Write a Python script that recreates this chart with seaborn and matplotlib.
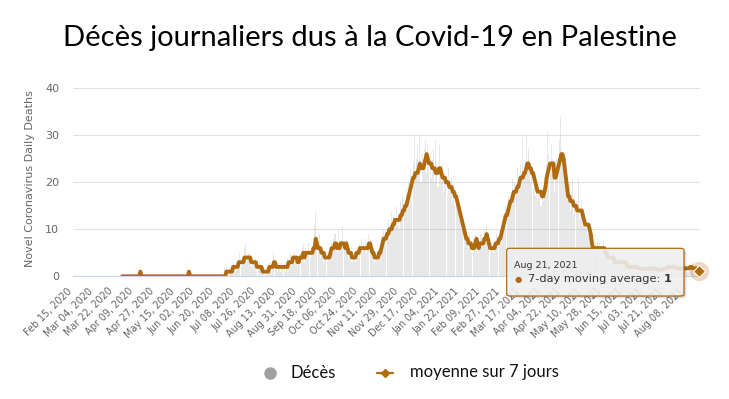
import numpy as np
import pandas as pd
import matplotlib
matplotlib.use("Agg")
import matplotlib.pyplot as plt
import matplotlib.transforms as mtrans
from matplotlib.patches import FancyBboxPatch
from matplotlib.lines import Line2D
import seaborn as sns

# ---------------- data ----------------
start_date = "2020-02-15"

# daily deaths, one value per day from Feb 15, 2020 to Aug 21, 2021
deaths = [
    0, 0, 0, 0, 0, 0, 0, 0, 0, 0,
    0, 0, 0, 0, 0, 0, 0, 0, 0, 0,
    0, 0, 0, 0, 0, 0, 0, 0, 0, 0,
    0, 0, 0, 0, 0, 0, 0, 0, 0, 0,
    0, 0, 0, 0, 0, 0, 0, 0, 0, 0,
    0, 0, 0, 0, 0, 0, 0, 0, 0, 1,
    0, 0, 0, 0, 0, 0, 0, 0, 0, 0,
    0, 0, 0, 0, 0, 0, 0, 0, 0, 0,
    0, 0, 0, 0, 0, 0, 0, 0, 0, 0,
    0, 0, 0, 0, 0, 0, 0, 0, 0, 0,
    0, 0, 1, 0, 0, 0, 0, 0, 0, 0,
    0, 0, 0, 0, 0, 0, 0, 0, 0, 0,
    0, 0, 0, 0, 0, 0, 0, 0, 0, 0,
    0, 0, 0, 2, 1,
    2, 1, 0, 2, 1, 1, 3, 2, 1, 3,
    2, 3, 5, 2, 3, 4, 6, 7, 3, 4,
    5, 3, 2, 4, 3, 2, 4, 1, 2, 3,
    2, 1, 1, 2, 0, 1, 2, 1, 3, 2,
    1, 3, 5, 2, 2, 1, 3, 2, 1, 3,
    2, 3, 1, 2, 4, 3, 2, 5, 3, 4,
    5, 3, 4, 2, 4, 5, 3, 6, 7, 3,
    6, 4, 5, 7, 4, 6, 5, 7, 11, 14,
    6, 5, 9, 4, 5, 6, 3, 4, 5, 3,
    5, 4, 6, 7, 5, 8, 9, 6, 5, 10,
    7, 6, 8, 11, 6, 7, 8, 5, 4, 6,
    5, 3, 5, 4, 3, 6, 5, 4, 7, 8,
    5, 7, 6, 8, 5, 7, 9, 8, 5, 4,
    6, 3, 5, 4, 5, 6, 5, 8, 9, 10,
    7, 10, 9, 12, 8, 11, 14, 10, 13, 12,
    15, 11, 13, 10, 16, 12, 17, 14, 16, 19,
    15, 20, 18, 23, 19, 24, 30, 21, 25, 27,
    22, 30, 20, 26, 24, 27, 29, 22, 28, 23,
    26, 21, 25, 27, 20, 29, 24, 19, 28, 22,
    20, 24, 18, 22, 21, 17, 23, 20, 18, 21,
    16, 19, 15, 18, 14, 16, 12, 13, 10, 12,
    9, 11, 7, 8, 6, 9, 7, 5, 8, 6,
    9, 7, 5, 8, 6, 9, 7, 8, 10, 7,
    11, 6, 8, 5, 7, 6, 5, 8, 7, 9,
    6, 9, 10, 8, 12, 13, 11, 15, 14, 17,
    14, 18, 17, 21, 16, 20, 19, 23, 18, 22,
    24, 19, 29, 21, 25, 30, 22, 27, 24, 20,
    23, 19, 21, 17, 20, 16, 19, 18, 15, 17,
    16, 20, 22, 24, 31, 26, 22, 28, 25, 23,
    18, 22, 25, 21, 29, 34, 27, 24, 26, 22,
    19, 17, 16, 20, 14, 18, 21, 13, 17, 16,
    15, 21, 12, 14, 16, 11, 13, 10, 12, 9,
    11, 8, 9, 6, 8, 5, 7, 6, 8, 5,
    7, 5, 6, 8, 5, 4, 6, 3, 5, 4,
    3, 5, 4, 2, 4, 3, 2, 4, 3, 2,
    4, 3, 2, 3, 1, 2, 3, 2, 1, 2,
    2, 3, 1, 2, 2, 1, 3, 2, 1, 2,
    1, 2, 0, 1, 2, 3, 2, 1, 2, 3,
    1, 2, 1, 0, 2, 1, 1, 2, 1, 1,
    2, 1, 0, 1, 2, 1, 2, 1, 1, 0,
    2, 3, 1, 2, 1, 0, 2, 1, 1, 2,
    1, 2, 3, 1, 0, 1, 2, 1, 1,
]

# 7-day moving average, starting on day index 43 (Mar 29, 2020)
avg_start_index = 43
moving_avg = [
    0, 0, 0, 0, 0, 0, 0,
    0, 0, 0, 0, 0, 0, 0, 0, 0, 1,
    0, 0, 0, 0, 0, 0, 0, 0, 0, 0,
    0, 0, 0, 0, 0, 0, 0, 0, 0, 0,
    0, 0, 0, 0, 0, 0, 0, 0, 0, 0,
    0, 0, 0, 0, 0, 0, 0, 0, 0, 0,
    0, 0, 1, 0, 0, 0, 0, 0, 0, 0,
    0, 0, 0, 0, 0, 0, 0, 0, 0, 0,
    0, 0, 0, 0, 0, 0, 0, 0, 0, 0,
    0, 0, 0, 0, 0,
    1, 1, 1, 1, 1, 1, 2, 2, 2, 2,
    2, 3, 3, 3, 3, 3, 4, 4, 4, 4,
    4, 4, 3, 3, 3, 3, 3, 2, 2, 2,
    2, 2, 1, 1, 1, 1, 1, 1, 2, 2,
    2, 2, 3, 3, 2, 2, 2, 2, 2, 2,
    2, 2, 2, 2, 2, 3, 3, 3, 3, 4,
    4, 4, 4, 3, 3, 4, 4, 4, 5, 4,
    5, 5, 5, 5, 5, 5, 5, 6, 6, 8,
    7, 6, 6, 6, 5, 5, 5, 4, 4, 4,
    4, 4, 5, 6, 6, 6, 7, 7, 6, 6,
    6, 7, 7, 7, 7, 6, 7, 6, 5, 5,
    5, 4, 4, 4, 4, 5, 5, 5, 6, 6,
    6, 6, 6, 6, 6, 6, 7, 7, 6, 5,
    5, 4, 4, 4, 4, 5, 5, 6, 7, 8,
    8, 8, 9, 9, 10, 10, 10, 11, 11, 12,
    12, 12, 12, 12, 13, 13, 14, 14, 15, 15,
    16, 17, 18, 19, 20, 21, 21, 22, 22, 22,
    23, 24, 23, 23, 23, 24, 25, 26, 25, 24,
    24, 24, 23, 23, 23, 22, 22, 22, 23, 23,
    22, 21, 21, 21, 20, 20, 20, 19, 19, 19,
    18, 18, 17, 17, 16, 15, 14, 13, 12, 11,
    10, 9, 8, 8, 7, 7, 7, 6, 6, 6,
    7, 8, 7, 6, 7, 7, 7, 7, 8, 8,
    9, 8, 7, 6, 6, 6, 6, 6, 7, 7,
    7, 8, 8, 9, 10, 11, 12, 13, 13, 14,
    15, 16, 16, 17, 18, 18, 18, 19, 19, 20,
    21, 21, 21, 22, 22, 23, 24, 24, 23, 23,
    22, 22, 21, 20, 19, 18, 18, 18, 18, 17,
    17, 18, 19, 21, 22, 23, 24, 24, 24, 24,
    21, 21, 22, 23, 24, 25, 26, 26, 25, 23,
    21, 19, 17, 17, 16, 16, 16, 15, 15, 15,
    14, 14, 14, 14, 14, 13, 12, 11, 11, 11,
    11, 10, 9, 7, 6, 6, 6, 6, 6, 6,
    6, 6, 6, 6, 6, 5, 5, 4, 4, 4,
    4, 4, 4, 3, 3, 3, 3, 3, 3, 3,
    3, 3, 3, 3, 2, 2, 2, 2, 2, 2,
    2, 2, 2, 2, 1.7, 1.7, 1.6, 1.6, 1.6, 1.6,
    1.6, 1.6, 1.6, 1.6, 1.6, 1.7, 1.7, 1.6, 1.6, 1.6,
    1.6, 1.4, 1.4, 1.4, 1.4, 1.4, 1.6, 1.6, 1.6, 1.7,
    2, 2, 2, 2, 2, 2, 2, 1.7, 1.7, 1.7,
    1.7, 1.7, 1.7, 1.7, 1.7, 1.7, 1.7, 1.7, 1.7, 1.7,
    2, 2, 1.7, 1.7, 1.7, 1.7, 1.6, 1.4, 1.2,
]

tick_labels = [
    "Feb 15, 2020", "Mar 04, 2020", "Mar 22, 2020", "Apr 09, 2020",
    "Apr 27, 2020", "May 15, 2020", "Jun 02, 2020", "Jun 20, 2020",
    "Jul 08, 2020", "Jul 26, 2020", "Aug 13, 2020", "Aug 31, 2020",
    "Sep 18, 2020", "Oct 06, 2020", "Oct 24, 2020", "Nov 11, 2020",
    "Nov 29, 2020", "Dec 17, 2020", "Jan 04, 2021", "Jan 22, 2021",
    "Feb 09, 2021", "Feb 27, 2021", "Mar 17, 2021", "Apr 04, 2021",
    "Apr 22, 2021", "May 10, 2021", "May 28, 2021", "Jun 15, 2021",
    "Jul 03, 2021", "Jul 21, 2021", "Aug 08, 2021",
]
y_ticks = [0, 10, 20, 30, 40]

title = "Décès journaliers dus à la Covid-19 en Palestine"
y_label = "Novel Coronavirus Daily Deaths"
legend_labels = ["Décès", "moyenne sur 7 jours"]
tooltip_series = "7-day moving average"

# ---------------- style ----------------
LINE = "#b06a10"
BAR = "#9a9a9a"
GREY_TXT = "#666666"

sns.set_style("white")
plt.rcParams["font.family"] = ["DejaVu Sans"]

dates = pd.date_range(start_date, periods=len(deaths), freq="D")
df = pd.DataFrame({"day": np.arange(len(deaths)), "deaths": deaths})
avg_df = pd.DataFrame({
    "day": np.arange(avg_start_index, avg_start_index + len(moving_avg)),
    "avg": moving_avg,
})

W, H = 729, 399
fig = plt.figure(figsize=(W / 100, H / 100), dpi=100)
L, R, T, B = 73, 700, 88.3, 276.3
ax = fig.add_axes([L / W, 1 - B / H, (R - L) / W, (B - T) / H])


def fx(px):
    return px / W


def fy(py):
    return 1 - py / H


sns.barplot(data=df, x="day", y="deaths", native_scale=True, color=BAR,
            saturation=1, width=0.92, errorbar=None, linewidth=0, alpha=0.22,
            ax=ax, zorder=2)
sns.lineplot(data=avg_df, x="day", y="avg", color=LINE, linewidth=2.8,
             ax=ax, zorder=3)

ax.set_xlim(-0.5, len(deaths) - 0.5)
ax.set_ylim(0, 40)

# grid / spines
ax.set_axisbelow(True)
ax.yaxis.grid(True, color="#e2e2e2", linewidth=0.8)
ax.xaxis.grid(False)
for s in ["top", "right", "left"]:
    ax.spines[s].set_visible(False)
ax.spines["bottom"].set_color("#ccd6eb")
ax.spines["bottom"].set_linewidth(0.8)
ax.spines["bottom"].set_zorder(4)

# ticks
tick_dates = pd.to_datetime(tick_labels, format="%b %d, %Y")
tick_pos = [(d - dates[0]).days for d in tick_dates]
ax.set_xticks(tick_pos)
ax.set_xticklabels(tick_labels, rotation=45, ha="right", va="top",
                   rotation_mode="anchor", fontsize=6.9, color=GREY_TXT)
ax.tick_params(axis="x", length=0, pad=7)
shift = mtrans.ScaledTranslation(-6.5 / 100, 0, fig.dpi_scale_trans)
for lab in ax.get_xticklabels():
    lab.set_transform(lab.get_transform() + shift)

ax.set_yticks(y_ticks)
ax.tick_params(axis="y", length=0, pad=10, labelsize=8, labelcolor=GREY_TXT)
ax.set_xlabel("")
ax.set_ylabel(y_label, fontsize=8, color=GREY_TXT)
ax.yaxis.set_label_coords(-38 / (R - L), 0.52)

# hover marker on the last point
last = avg_df.iloc[-1]
ax.scatter([last["day"]], [last["avg"]], s=190, color=LINE, alpha=0.25,
           linewidths=0, clip_on=False, zorder=5)
ax.plot([last["day"]], [last["avg"]], marker="D", markersize=6,
        color=LINE, markeredgecolor="white", markeredgewidth=0.8,
        clip_on=False, zorder=6)

# title
fig.text(fx(369.5), fy(38), title, ha="center", va="center",
         fontsize=21, family=["Lato", "DejaVu Sans"], color="#000000")

# legend
fig.add_artist(Line2D([fx(270)], [fy(372.5)], marker="o", markersize=8,
                      color="#a0a0a0", linestyle="none"))
fig.text(fx(290), fy(372.5), legend_labels[0], ha="left", va="center",
         fontsize=12, family=["Lato", "DejaVu Sans"], color="#111111")
fig.add_artist(Line2D([fx(377), fx(393)], [fy(372.5), fy(372.5)],
                      color=LINE, linewidth=1.6))
fig.add_artist(Line2D([fx(385)], [fy(372.5)], marker="D", markersize=4,
                      color=LINE, linestyle="none"))
fig.text(fx(410), fy(372.5), legend_labels[1], ha="left", va="center",
         fontsize=12, family=["Lato", "DejaVu Sans"], color="#111111")

# tooltip
bx0, by0, bx1, by1 = 506.7, 248.3, 684, 296
for k, a in [(3, 0.05), (2, 0.07), (1, 0.09)]:
    fig.add_artist(FancyBboxPatch(
        (fx(bx0 + k), fy(by1 + k)), fx(bx1 - bx0), (by1 - by0) / H,
        boxstyle="round,pad=0,rounding_size=0.005", transform=fig.transFigure,
        facecolor="black", edgecolor="none", alpha=a, zorder=9))
fig.add_artist(FancyBboxPatch(
    (fx(bx0), fy(by1)), fx(bx1 - bx0), (by1 - by0) / H,
    boxstyle="round,pad=0,rounding_size=0.005", transform=fig.transFigure,
    facecolor=(0.97, 0.97, 0.97, 0.85), edgecolor=LINE, linewidth=0.9,
    zorder=10))
fig.text(fx(514.3), fy(268), dates[-1].strftime("%b %d, %Y"), ha="left",
         va="baseline", fontsize=6.8, color="#333333", zorder=11)
fig.text(fx(514.5), fy(282), "\u25cf", ha="left", va="baseline",
         fontsize=6, color=LINE, zorder=11)
t1 = fig.text(fx(527.7), fy(282.5), tooltip_series + ": ", ha="left",
              va="baseline", fontsize=8.2, color="#333333", zorder=11)
renderer = fig.canvas.get_renderer()
bb = t1.get_window_extent(renderer=renderer)
fig.text(bb.x1 / W, fy(282.5), f"{round(last['avg'])}", ha="left",
         va="baseline", fontsize=8.2, fontweight="bold", color="#333333",
         zorder=11)

fig.savefig("out.png", dpi=100)
